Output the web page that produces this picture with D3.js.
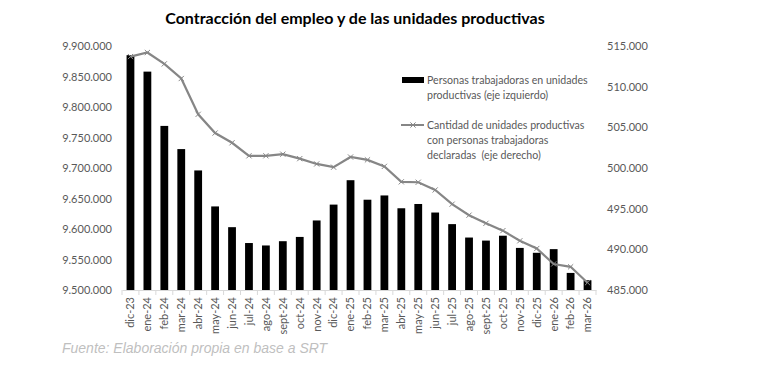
<!DOCTYPE html>
<html>
<head>
<meta charset="utf-8">
<script src="https://cdn.jsdelivr.net/npm/d3@7"></script>
<style>
    body { margin: 0; background: #fff; }
    svg text { font-family: Lato, "Open Sans", sans-serif; }
</style>
</head>
<body>
<div id="chart"></div>
<script>
// meses (dic-23 a mar-26)
const months = ["dic-23", "ene-24", "feb-24", "mar-24", "abr-24", "may-24", "jun-24", "jul-24",
    "ago-24", "sept-24", "oct-24", "nov-24", "dic-24", "ene-25", "feb-25", "mar-25", "abr-25",
    "may-25", "jun-25", "jul-25", "ago-25", "sept-25", "oct-25", "nov-25", "dic-25", "ene-26",
    "feb-26", "mar-26"];

// personas trabajadoras (eje izquierdo)
const workers = [9885000, 9858000, 9769000, 9731000, 9696000, 9637000, 9603000, 9577000,
    9573000, 9580000, 9587000, 9614000, 9640000, 9680000, 9648000, 9655000, 9634000,
    9641000, 9627000, 9608000, 9586000, 9581000, 9589000, 9569000, 9561000, 9567000,
    9528000, 9516000];

// unidades productivas (eje derecho)
const units = [513700, 514200, 512800, 511000, 506600, 504300, 503100, 501500,
    501500, 501700, 501150, 500500, 500100, 501350, 501000, 500200, 498300,
    498250, 497300, 495550, 494200, 493200, 492300, 491050, 490100, 488200,
    487850, 485900];

const leftTicks = [9500000, 9550000, 9600000, 9650000, 9700000, 9750000, 9800000, 9850000, 9900000];
const rightTicks = [485000, 490000, 495000, 500000, 505000, 510000, 515000];

const W = 763, H = 387;
const plot = { left: 122, right: 596, top: 46, bottom: 290 };

const loc = d3.formatLocale({ decimal: ",", thousands: ".", grouping: [3], currency: ["$", ""] });
const fmt = loc.format(",");

const svg = d3.select("#chart").append("svg")
    .attr("width", W)
    .attr("height", H);

const x = d3.scaleBand()
    .domain(months)
    .range([plot.left, plot.right])
    .padding(0);

const yL = d3.scaleLinear()
    .domain([9500000, 9900000])
    .range([plot.bottom, plot.top]);

const yR = d3.scaleLinear()
    .domain([485000, 515000])
    .range([plot.bottom, plot.top]);

// titulo
svg.append("text")
    .attr("x", 355)
    .attr("y", 24)
    .attr("text-anchor", "middle")
    .style("font-size", "16px")
    .style("font-weight", "bold")
    .style("fill", "#000")
    .text("Contracción del empleo y de las unidades productivas");

// eje izquierdo
const axL = svg.append("g")
    .attr("transform", "translate(" + plot.left + ",0)")
    .call(d3.axisLeft(yL).tickValues(leftTicks).tickSize(0).tickPadding(10).tickFormat(fmt));
axL.select(".domain").remove();
axL.selectAll("text").style("font-size", "11px").style("fill", "#595959");

// eje derecho
const axR = svg.append("g")
    .attr("transform", "translate(" + plot.right + ",0)")
    .call(d3.axisRight(yR).tickValues(rightTicks).tickSize(0).tickPadding(11).tickFormat(fmt));
axR.select(".domain").remove();
axR.selectAll("text").style("font-size", "11px").style("fill", "#595959");

// barras
const bw = x.bandwidth() * 0.46;
svg.selectAll("rect.bar")
    .data(months)
    .enter()
    .append("rect")
    .attr("class", "bar")
    .attr("x", (d) => x(d) + (x.bandwidth() - bw) / 2)
    .attr("y", (d, i) => yL(workers[i]))
    .attr("width", bw)
    .attr("height", (d, i) => plot.bottom - yL(workers[i]))
    .attr("fill", "#000");

// eje x
const axX = svg.append("g")
    .attr("transform", "translate(0," + plot.bottom + ")")
    .call(d3.axisBottom(x).tickSize(0).tickPadding(8));
axX.select(".domain").attr("stroke", "#d9d9d9");
axX.selectAll("text")
    .attr("transform", "rotate(-90)")
    .attr("x", -7)
    .attr("y", 0)
    .attr("dy", "0.35em")
    .style("text-anchor", "end")
    .style("font-size", "11px")
    .style("fill", "#595959");
// marcas entre categorias
svg.append("g")
    .selectAll("line")
    .data(months.concat(["_end"]))
    .enter()
    .append("line")
    .attr("x1", (d, i) => plot.left + i * x.step())
    .attr("x2", (d, i) => plot.left + i * x.step())
    .attr("y1", plot.bottom)
    .attr("y2", plot.bottom + 5)
    .attr("stroke", "#d9d9d9");

// linea
const line = d3.line()
    .x((d, i) => x(months[i]) + x.bandwidth() / 2)
    .y((d) => yR(d));
svg.append("path")
    .datum(units)
    .attr("d", line)
    .attr("fill", "none")
    .attr("stroke", "#868686")
    .attr("stroke-width", 2.2);

const m = 2.6;
const marks = svg.append("g")
    .selectAll("g")
    .data(units)
    .enter()
    .append("g")
    .attr("transform", (d, i) => "translate(" + (x(months[i]) + x.bandwidth() / 2) + "," + yR(d) + ")");
marks.append("path")
    .attr("d", "M" + (-m) + "," + (-m) + "L" + m + "," + m + "M" + (-m) + "," + m + "L" + m + "," + (-m))
    .attr("stroke", "#868686")
    .attr("stroke-width", 1);

// leyenda
const leg = svg.append("g").style("font-size", "10.6px").style("fill", "#595959");
leg.append("rect")
    .attr("x", 402).attr("y", 77)
    .attr("width", 22).attr("height", 6)
    .attr("fill", "#000");
leg.append("text").attr("x", 427).attr("y", 84).text("Personas trabajadoras en unidades");
leg.append("text").attr("x", 427).attr("y", 99).text("productivas (eje izquierdo)");

leg.append("line")
    .attr("x1", 401).attr("x2", 424)
    .attr("y1", 125).attr("y2", 125)
    .attr("stroke", "#868686").attr("stroke-width", 2);
leg.append("path")
    .attr("d", "M" + (413 - m) + "," + (125 - m) + "L" + (413 + m) + "," + (125 + m) +
        "M" + (413 - m) + "," + (125 + m) + "L" + (413 + m) + "," + (125 - m))
    .attr("stroke", "#868686");
leg.append("text").attr("x", 427).attr("y", 129).text("Cantidad de unidades productivas");
leg.append("text").attr("x", 427).attr("y", 144).text("con personas trabajadoras");
leg.append("text").attr("x", 427).attr("y", 159).attr("xml:space", "preserve").text("declaradas  (eje derecho)");

// fuente
svg.append("text")
    .attr("x", 62)
    .attr("y", 353)
    .style("font-family", "'Liberation Sans', Arial, sans-serif")
    .style("font-style", "italic")
    .style("font-size", "14px")
    .style("fill", "#bfbfbf")
    .text("Fuente: Elaboración propia en base a SRT");
</script>
</body>
</html>
